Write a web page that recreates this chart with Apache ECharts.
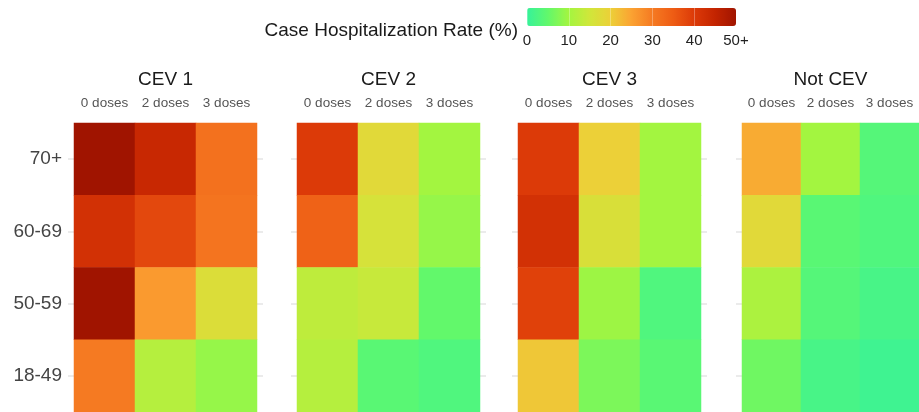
<!DOCTYPE html>
<html>
<head>
<meta charset="utf-8">
<script src="https://cdn.jsdelivr.net/npm/echarts@6/dist/echarts.min.js"></script>
<style>
  html, body { margin: 0; padding: 0; background: #fff; }
  #main { width: 919px; height: 412px; }
</style>
</head>
<body>
<div id="main"></div>
<script>
// rows top to bottom
var ageGroups = ['70+', '60-69', '50-59', '18-49'];
var doses = ['0 doses', '2 doses', '3 doses'];
var panels = ['CEV 1', 'CEV 2', 'CEV 3', 'Not CEV'];
var legendTicks = [0, 10, 20, 30, 40, 50];

// hospitalization rate (%), one row per age group, columns = doses
var cev1 = [[55, 44, 31.5], [42, 38, 31], [55, 26, 17], [30, 12, 9]];
var cev2 = [[40, 18, 10], [34, 16, 9], [13, 14, 5], [12, 4, 3]];
var cev3 = [[40, 20, 10], [42, 16.5, 10], [39, 9.5, 3], [21, 7, 4]];
var notCev = [[24, 10, 3.5], [18, 4, 3], [11, 3.5, 2], [6, 2, 1]];
var panelValues = [cev1, cev2, cev3, notCev];

var colorStops = ['#36f29a', '#62f86b', '#a3f540', '#d0e63a', '#ecd038', '#fba232',
                  '#f57a22', '#ee5c14', '#dc3a08', '#c32400', '#a01400'];

var font = 'Liberation Sans, Arial, sans-serif';
var panelLeft = [74, 297, 518, 742];

var grids = [], xAxes = [], yAxes = [], series = [];
panels.forEach(function (name, i) {
  grids.push({ left: panelLeft[i], top: 123, width: 183, height: 289 });
  xAxes.push({
    type: 'category', gridIndex: i, data: doses, position: 'top',
    name: name, nameLocation: 'middle', nameGap: 34,
    nameTextStyle: { fontFamily: font, fontSize: 19, color: '#1a1a1a' },
    axisLine: { show: false }, axisTick: { show: false },
    axisLabel: { fontFamily: font, fontSize: 13.5, color: '#555', margin: 13, interval: 0 }
  });
  yAxes.push({
    type: 'category', gridIndex: i, data: ageGroups, inverse: true,
    axisLine: { show: false },
    axisTick: { show: true, alignWithLabel: true, length: 6, lineStyle: { color: '#ebebeb', width: 2 } },
    axisLabel: { show: i === 0, fontFamily: font, fontSize: 19, color: '#444', margin: 12 }
  });
  yAxes.push({
    type: 'category', gridIndex: i, data: ageGroups, inverse: true, position: 'right',
    axisLine: { show: false },
    axisTick: { show: true, alignWithLabel: true, length: 6, lineStyle: { color: '#ebebeb', width: 2 } },
    axisLabel: { show: false }
  });
  var data = [];
  panelValues[i].forEach(function (row, r) {
    row.forEach(function (v, c) { data.push([c, r, v]); });
  });
  series.push({
    type: 'heatmap', xAxisIndex: i, yAxisIndex: i * 2, data: data,
    itemStyle: { borderWidth: 0 },
    emphasis: { disabled: true }
  });
});

// axis under the colour bar for its tick labels
grids.push({ left: 527, top: 8, width: 209, height: 18 });
xAxes.push({
  type: 'value', gridIndex: 4, min: 0, max: 50, interval: 10, z: 10,
  axisLine: { show: false }, axisTick: { show: false },
  splitLine: { show: true, lineStyle: { color: 'rgba(255,255,255,0.3)', width: 1 } },
  axisLabel: {
    fontFamily: font, fontSize: 15, color: '#222', margin: 7,
    formatter: function (v) { return v === legendTicks[legendTicks.length - 1] ? v + '+' : v; }
  }
});
yAxes.push({ type: 'value', gridIndex: 4, show: false });

var chart = echarts.init(document.getElementById('main'), null, { renderer: 'canvas' });
chart.setOption({
  animation: false,
  grid: grids,
  xAxis: xAxes,
  yAxis: yAxes,
  visualMap: {
    type: 'continuous', min: 0, max: 50, orient: 'horizontal',
    left: 527, top: 8, padding: 0, itemWidth: 18, itemHeight: 209,
    calculable: false, seriesIndex: [0, 1, 2, 3],
    inRange: { color: colorStops }
  },
  graphic: [{
    type: 'text', left: null, right: 401, top: 21,
    style: { text: 'Case Hospitalization Rate (%)', font: '19px ' + font, fill: '#1a1a1a' }
  }],
  series: series
});
</script>
</body>
</html>
